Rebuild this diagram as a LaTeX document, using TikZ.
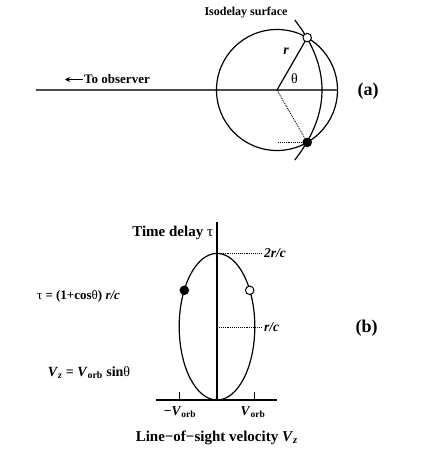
\documentclass[tikz,border=0pt]{standalone}
\usepackage{fontspec}
\setmainfont{Liberation Serif}
\usetikzlibrary{arrows.meta}
\tikzset{
  lbl/.style={font=\bfseries\fontsize{12}{14}\selectfont, inner sep=0pt},
  big/.style={font=\bfseries\fontsize{18}{20}\selectfont, inner sep=0pt},
  curve/.style={line width=1.2pt, black},
  guide/.style={line width=0.9pt, densely dotted},
  opendot/.style={circle, draw, fill=white, line width=1pt, minimum size=8.5pt, inner sep=0pt},
  fulldot/.style={circle, draw, fill=black, line width=1pt, minimum size=8.5pt, inner sep=0pt},
}
\newcommand{\gr}[1]{{\mdseries #1}}
\begin{document}
\begin{tikzpicture}[x=1pt,y=-1pt]
\useasboundingbox (0,0) rectangle (422,455);
% ---------- (a) ----------
\coordinate (O) at (277,90);
\coordinate (axL) at (36,90);
\coordinate (axR) at (337.5,90);
\draw[line width=1.5pt, black!70] (axL) -- (axR);
\draw[curve] (O) circle[radius=60.5];
\draw[curve] plot[domain=-70:70, samples=60] ({322 - \x*\x/180}, {90+\x});
\coordinate (P) at (307.2,37.6);
\coordinate (Q) at (307.2,142.4);
\coordinate (Qh) at (278,142.4);
\draw[curve] (O) -- (P);
\draw[guide] (O) -- (Q);
\draw[guide] (Qh) -- (Q);
\node[opendot] (pdot) at (P) {};
\node[fulldot] (qdot) at (Q) {};
\node[lbl] (iso) at (246,13) {Isodelay surface};
\node[lbl, font=\bfseries\itshape\fontsize{14}{16}\selectfont] (rl) at (286,51) {r};
\node[lbl, font=\fontsize{14}{16}\selectfont] (th) at (294.5,79) {θ};
\node[big] (la) at (368,91) {(a)};
\node[lbl, anchor=west, font=\bfseries\fontsize{13}{15}\selectfont] (obs) at (84,79.5) {To observer};
\draw[line width=1pt, -{Stealth[length=5pt,width=5pt]}] ([xshift=-1pt]obs.west) -- ++(-18,0) coordinate (arrtip);
% ---------- (b) ----------
\coordinate (vt) at (217,222);
\coordinate (vb) at (217,400);
\coordinate (hl) at (156,400);
\coordinate (hr) at (277,400);
\draw[curve] (vt) -- (vb);
\draw[curve] (hl) -- (hr);
\draw[curve] (217,326.7) ellipse[x radius=37.8, y radius=73.3];
\coordinate (tl) at (179.2,400);
\coordinate (tr) at (254.8,400);
\draw[curve] (tl) -- ++(0,-8);
\draw[curve] (tr) -- ++(0,-8);
\coordinate (top) at (217,253.4);
\coordinate (mid) at (217,327.3);
\node[lbl, anchor=west, font=\bfseries\itshape\fontsize{13.5}{15}\selectfont] (l2rc) at (264,253.4) {2r/c};
\node[lbl, anchor=west, font=\bfseries\itshape\fontsize{13.5}{15}\selectfont] (lrc) at (264,327.3) {r/c};
\draw[guide] (top) -- ([xshift=-2pt]l2rc.west);
\draw[guide] (mid) -- ([xshift=-2pt]lrc.west);
\node[fulldot] (bdot) at (184.3,290.3) {};
\node[opendot] (odot) at (249.7,290.3) {};
\node[lbl, font=\bfseries\fontsize{15}{17}\selectfont] (td) at (172.7,233.3) {Time delay \gr{τ}};
\node[lbl, font=\bfseries\fontsize{13}{15}\selectfont] (eq1) at (78.5,296) {\gr{τ} = (1+cos\gr{θ}) \textit{r/c}};
\node[lbl, font=\bfseries\fontsize{14}{16}\selectfont] (eq2) at (89,373) {\textit{V}\textsubscript{\textit{z}} = \textit{V}\textsubscript{orb} sin\gr{θ}};
\node[big] (lb) at (366.7,328.3) {(b)};
\node[lbl, font=\bfseries\fontsize{13.5}{15}\selectfont] (vm) at (180,412) {−\textit{V}\textsubscript{orb}};
\node[lbl, font=\bfseries\fontsize{13.5}{15}\selectfont] (vp) at (253,412) {\textit{V}\textsubscript{orb}};
\node[lbl, font=\bfseries\fontsize{15}{17}\selectfont] (xl) at (216.7,438) {Line−of−sight velocity \textit{V}\textsubscript{\textit{z}}};
\end{tikzpicture}
\end{document}
